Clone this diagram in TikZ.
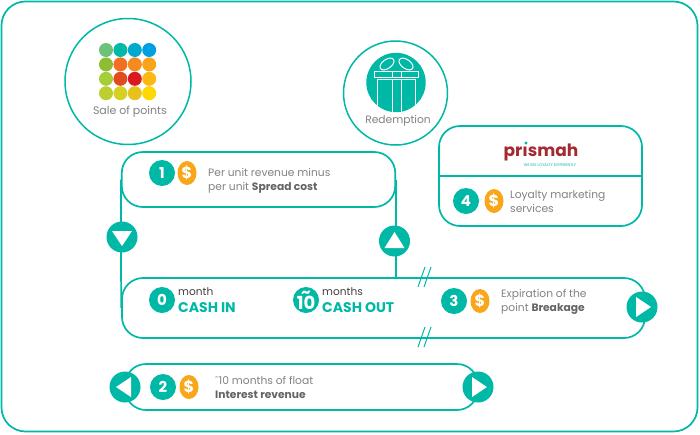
\documentclass[tikz,border=0pt]{standalone}
\usepackage{fontspec}
\setmainfont{Poppins}
\usetikzlibrary{calc}
\usetikzlibrary{shapes.geometric}
\definecolor{teal0}{HTML}{00B8A6}
\definecolor{coin0}{HTML}{FAA61A}
\definecolor{grey0}{HTML}{808285}
\definecolor{grey1}{HTML}{636466}
\definecolor{dark0}{HTML}{414042}
\definecolor{logo0}{HTML}{A32A30}
\tikzset{
	frame/.style={draw=teal0, line width=1.7pt, rounded corners=21pt, inner sep=0pt},
	ring/.style={draw=teal0, fill=white, line width=1.5pt, circle, inner sep=0pt},
	button/.style={fill=teal0, circle, minimum size=31pt, inner sep=0pt},
	numdot/.style={fill=teal0, circle, minimum size=26pt, inner sep=0pt, text=white, font=\fontsize{15}{15}\selectfont\bfseries},
	coin/.style={fill=coin0, ellipse, minimum width=19pt, minimum height=24pt, inner sep=0pt, text=white, font=\fontsize{16}{16}\selectfont\bfseries},
	note/.style={right, inner sep=0pt, text=grey0, align=left, font=\fontsize{10.7}{14}\selectfont},
	month/.style={right, inner sep=0pt, text=dark0, font=\fontsize{10.6}{10.6}\selectfont},
	cash/.style={right, inner sep=0pt, text=teal0, font=\fontsize{14}{14}\selectfont\bfseries},
	line0/.style={draw=teal0, line width=1.7pt}
}
\begin{document}
\begin{tikzpicture}[x=1pt, y=-1pt]
	\useasboundingbox (0,0) rectangle (700,434);
	\fill[white] (0,0) rectangle (700,434);
	\node[frame, rounded corners=24pt, minimum width=696pt, minimum height=430pt] (outer) at (349.5,216.5) {};
	\node[ring, minimum size=126pt] (sale) at (128,81.5) {};
	\node[ring, minimum size=104pt] (redeem) at (395.5,93) {};
	\node[frame, minimum width=273.5pt, minimum height=55pt] (spread) at (258.5,179.5) {};
	\node[frame, minimum width=523pt, minimum height=60pt] (cashbox) at (383.5,308) {};
	\node[frame, minimum width=353pt, minimum height=46pt] (float) at (301.5,387) {};
	\node[frame, minimum width=203pt, minimum height=100pt] (prismah) at (540.5,176) {};
	\draw[line0] (prismah.west) -- (prismah.east);
	\draw[line0] (spread.west) -- (cashbox.west);
	\draw[line0] (spread.east) -- (spread.east |- cashbox.north);
	\foreach \xa in {418,424} {
		\draw[teal0, line width=1pt] (\xa,287) -- (\xa+7,267);
		\draw[teal0, line width=1pt] (\xa,347) -- (\xa+7,327);
	}
	\node[button] (down) at (122,237) {};
	\node[button] (up) at (394.5,241) {};
	\node[button] (right0) at (642,307) {};
	\node[button] (left1) at (125,387) {};
	\node[button] (right1) at (478,387) {};
	\fill[white] ([shift={(-10,-6)}]down.center) -- ([shift={(10,-6)}]down.center) -- ([shift={(0,9)}]down.center) -- cycle;
	\fill[white] ([shift={(-10,7)}]up.center) -- ([shift={(10,7)}]up.center) -- ([shift={(0,-9)}]up.center) -- cycle;
	\fill[white] ([shift={(-6,-10)}]right0.center) -- ([shift={(-6,10)}]right0.center) -- ([shift={(9,0)}]right0.center) -- cycle;
	\fill[white] ([shift={(-6,-10)}]right1.center) -- ([shift={(-6,10)}]right1.center) -- ([shift={(9,0)}]right1.center) -- cycle;
	\fill[white] ([shift={(6,-10)}]left1.center) -- ([shift={(6,10)}]left1.center) -- ([shift={(-9,0)}]left1.center) -- cycle;
	\foreach \c [count=\i from 0] in {6CC17B,00B9A6,00A9CE,009FE3,8FBC35,F26E21,F58A1F,FAA41A,A6CE39,E04B22,D9181F,FDB813,BCCF2F,D6D022,E8C11C,FFD800} {
		\definecolor{dot0}{HTML}{\c}
		\pgfmathsetmacro{\xa}{106+14.4*mod(\i,4)}
		\pgfmathsetmacro{\ya}{50+14.4*int(\i/4)}
		\fill[dot0] (\xa,\ya) circle (7);
	}
	\node[text=grey0, font=\fontsize{11}{11}\selectfont] (saletext) at (130,112) {Sale of points};
	\fill[teal0] (396,82.5) circle (29.7);
	\begin{scope}
		\clip (396,82.5) circle (29.7);
		\draw[white, line width=1pt] (377,79) rectangle (415,115);
		\draw[white, line width=1pt] (392,79) -- (392,115) (401,79) -- (401,115);
	\end{scope}
	\draw[white, line width=1pt] (374,71) rectangle (418,77);
	\draw[white, line width=1pt] (392,71) -- (392,77) (401,71) -- (401,77);
	\draw[white, line width=1pt, rotate around={35:(387,64)}] (387,64) ellipse (8 and 4.5);
	\draw[white, line width=1pt, rotate around={-35:(406,64)}] (406,64) ellipse (8 and 4.5);
	\node[text=grey0, font=\fontsize{10.7}{11}\selectfont] (redeemtext) at (398,120.5) {Redemption};
	\node[text=logo0, inner sep=0pt, font=\fontsize{17}{17}\selectfont\bfseries] (logo) at (541,152) {prısmah};
	\fill[teal0] (526,143) circle (1.6);
	\node[text=teal0, inner sep=0pt, font=\fontsize{3.8}{3.8}\selectfont] (tagline) at (550,165.5) {WE SEE LOYALTY DIFFERENTLY};
	\node[numdot] (n1) at (162,173) {1};
	\node[coin] (c1) at (187,173) {\$};
	\node[note] (t1) at (208,180.5) {Per unit revenue minus\\per unit \textcolor{grey1}{\bfseries Spread cost}};
	\node[numdot] (n0) at (162,300) {0};
	\node[month] (m0) at (178,292) {month};
	\node[cash] (k0) at (178,307.5) {CASH IN};
	\node[numdot] (n10) at (306,300) {\makebox[0pt]{\raisebox{12pt}{\textasciitilde}}\makebox[0pt]{\fontsize{18}{18}\selectfont 10}};
	\node[month] (m10) at (322,292) {months};
	\node[cash] (k10) at (322,307.5) {CASH OUT};
	\node[numdot] (n3) at (454,301) {3};
	\node[coin] (c3) at (480,301) {\$};
	\node[note] (t3) at (501,301.5) {Expiration of the\\point \textcolor{grey1}{\bfseries Breakage}};
	\node[numdot] (n2) at (163,387) {2};
	\node[coin] (c2) at (189,387) {\$};
	\node[note] (t2) at (215,387.5) {˜10 months of float\\\textcolor{grey1}{\bfseries Interest revenue}};
	\node[numdot] (n4) at (466,201) {4};
	\node[coin] (c4) at (494,201) {\$};
	\node[note] (t4) at (510,201) {Loyalty marketing\\services};
\end{tikzpicture}
\end{document}
